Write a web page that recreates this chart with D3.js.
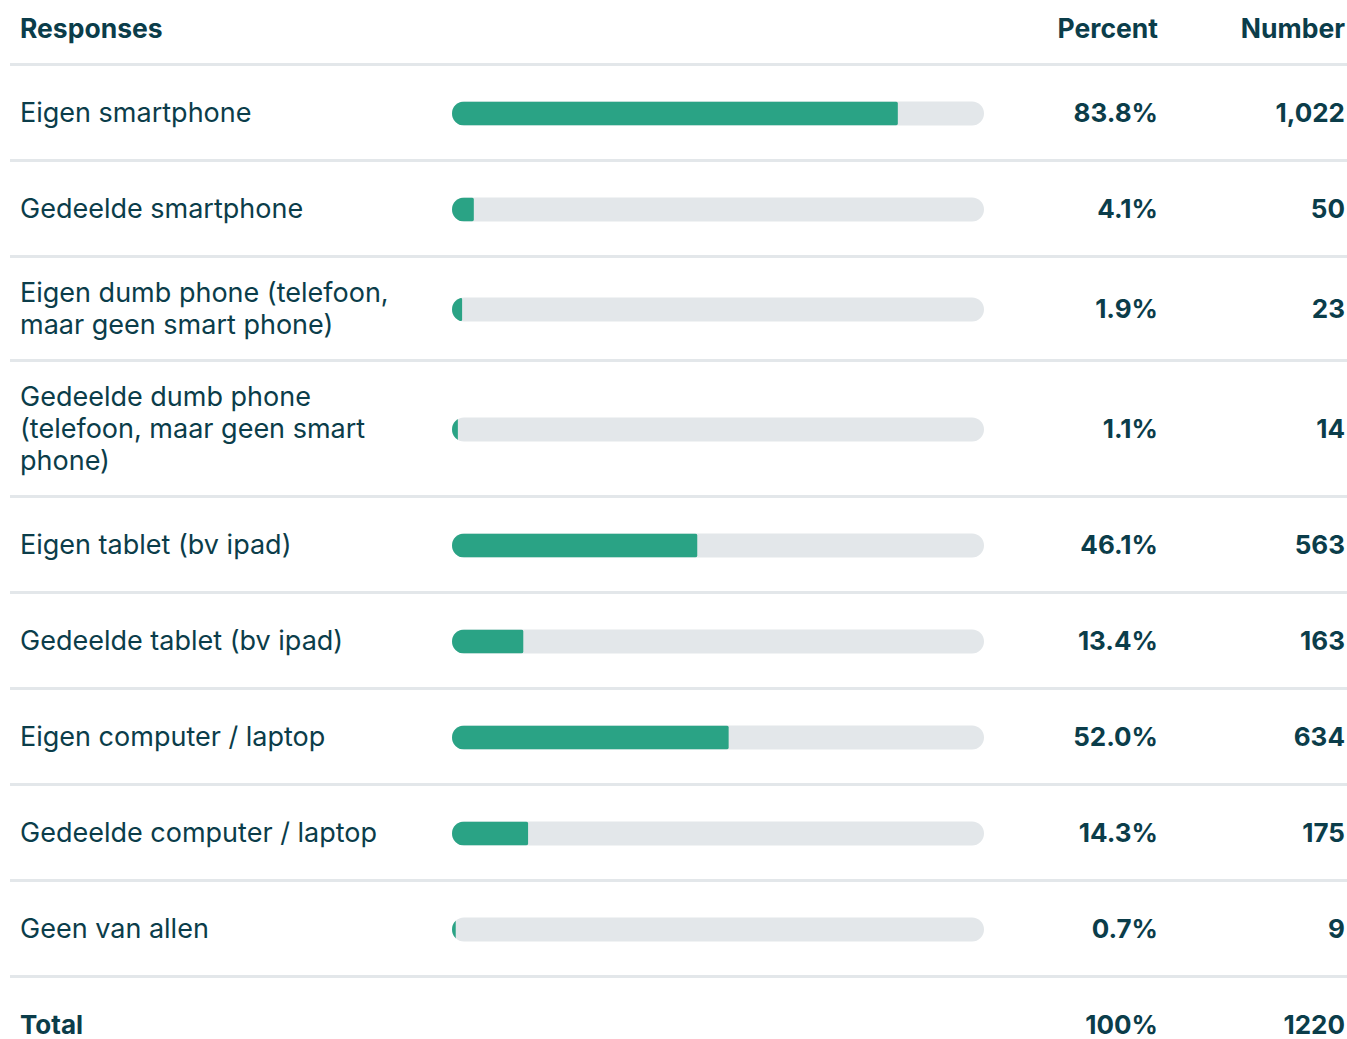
<!DOCTYPE html>
<html>
<head>
<meta charset="utf-8">
<script src="https://cdn.jsdelivr.net/npm/d3@7"></script>
<style>
  body { margin: 0; background: #fff; }
  svg { display: block; font-family: Inter, "Noto Sans", sans-serif; }
</style>
</head>
<body>
<div id="chart"></div>
<script>
const categories = [
    "Eigen smartphone",
    "Gedeelde smartphone",
    "Eigen dumb phone (telefoon, maar geen smart phone)",
    "Gedeelde dumb phone (telefoon, maar geen smart phone)",
    "Eigen tablet (bv ipad)",
    "Gedeelde tablet (bv ipad)",
    "Eigen computer / laptop",
    "Gedeelde computer / laptop",
    "Geen van allen"
];
const percents = [83.8, 4.1, 1.9, 1.1, 46.1, 13.4, 52.0, 14.3, 0.7];
const numbers = [1022, 50, 23, 14, 563, 163, 634, 175, 9];
const headers = ["Responses", "Percent", "Number"];
const totalLabel = "Total";
const totalPercent = "100%";
const totalNumber = 1220;

const width = 1347, height = 1039;
const textColor = "#0b3d4a";
const green = "#2aa385";
const track = "#e3e7ea";
const ruleColor = "#e3e7ea";

const fontSize = 26;
const labelSize = 27;
const lineHeight = 32;
const labelX = 20, labelMaxW = 400;
const barX0 = 452, barX1 = 984, barH = 24;
const pctRight = 1158, numRight = 1345;
const valueWeight = 700;

const svg = d3.select("#chart").append("svg")
    .attr("width", width)
    .attr("height", height);

// measure text for wrapping
const measure = svg.append("text")
    .attr("font-size", labelSize)
    .attr("visibility", "hidden");
function wrap(str) {
    const words = str.split(" ");
    const lines = [];
    let cur = "";
    words.forEach(w => {
        const test = cur ? cur + " " + w : w;
        measure.text(test);
        if (measure.node().getComputedTextLength() > labelMaxW && cur) {
            lines.push(cur);
            cur = w;
        } else {
            cur = test;
        }
    });
    if (cur) lines.push(cur);
    return lines;
}

const x = d3.scaleLinear().domain([0, 100]).range([barX0, barX1]);
const fmtNum = d3.format(",");

// header
const headerH = 63;
svg.append("text")
    .attr("x", labelX).attr("y", 38)
    .attr("font-size", 26.5).attr("font-weight", 700).attr("fill", textColor)
    .text(headers[0]);
svg.append("text")
    .attr("x", pctRight).attr("y", 38).attr("text-anchor", "end")
    .attr("font-size", 26.5).attr("font-weight", 700).attr("fill", textColor)
    .text(headers[1]);
svg.append("text")
    .attr("x", numRight).attr("y", 38).attr("text-anchor", "end")
    .attr("font-size", 26.5).attr("font-weight", 700).attr("fill", textColor)
    .text(headers[2]);

function rule(y) {
    svg.append("rect")
        .attr("x", 10).attr("y", y)
        .attr("width", width - 10).attr("height", 3)
        .attr("fill", ruleColor);
}

let y = headerH;
rule(y);

const defs = svg.append("defs");

categories.forEach((cat, i) => {
    const lines = wrap(cat);
    const rowH = Math.max(96, lines.length * lineHeight + 40);
    const cy = y + 3 + (rowH - 3) / 2;

    const g = svg.append("g");
    const t = g.append("text")
        .attr("x", labelX)
        .attr("font-size", labelSize)
        .attr("fill", textColor);
    const firstY = cy - (lines.length - 1) * lineHeight / 2 + 9;
    lines.forEach((ln, j) => {
        t.append("tspan").attr("x", labelX).attr("y", firstY + j * lineHeight).text(ln);
    });

    const by = cy - barH / 2 + 1;
    const clipId = "clip" + i;
    defs.append("clipPath").attr("id", clipId)
        .append("rect")
        .attr("x", x(0)).attr("y", by)
        .attr("width", x(100) - x(0)).attr("height", barH)
        .attr("rx", barH / 2);

    g.append("rect")
        .attr("x", x(0)).attr("y", by)
        .attr("width", x(100) - x(0)).attr("height", barH)
        .attr("rx", barH / 2)
        .attr("fill", track);

    g.append("rect")
        .attr("clip-path", `url(#${clipId})`)
        .attr("x", x(0)).attr("y", by)
        .attr("width", x(percents[i]) - x(0)).attr("height", barH)
        .attr("rx", 2)
        .attr("fill", green);

    g.append("text")
        .attr("x", pctRight).attr("y", cy + 9).attr("text-anchor", "end")
        .attr("font-size", fontSize).attr("font-weight", valueWeight).attr("fill", textColor)
        .text(percents[i].toFixed(1) + "%");
    g.append("text")
        .attr("x", numRight).attr("y", cy + 9).attr("text-anchor", "end")
        .attr("font-size", fontSize).attr("font-weight", valueWeight).attr("fill", textColor)
        .text(fmtNum(numbers[i]));

    y += rowH;
    rule(y);
});

// total row
const totalY = y + 3 + 93 / 2 + 9;
svg.append("text")
    .attr("x", labelX).attr("y", totalY)
    .attr("font-size", fontSize).attr("font-weight", 700).attr("fill", textColor)
    .text(totalLabel);
svg.append("text")
    .attr("x", pctRight).attr("y", totalY).attr("text-anchor", "end")
    .attr("font-size", fontSize).attr("font-weight", valueWeight).attr("fill", textColor)
    .text(totalPercent);
svg.append("text")
    .attr("x", numRight).attr("y", totalY).attr("text-anchor", "end")
    .attr("font-size", fontSize).attr("font-weight", valueWeight).attr("fill", textColor)
    .text(totalNumber);

measure.remove();
</script>
</body>
</html>
